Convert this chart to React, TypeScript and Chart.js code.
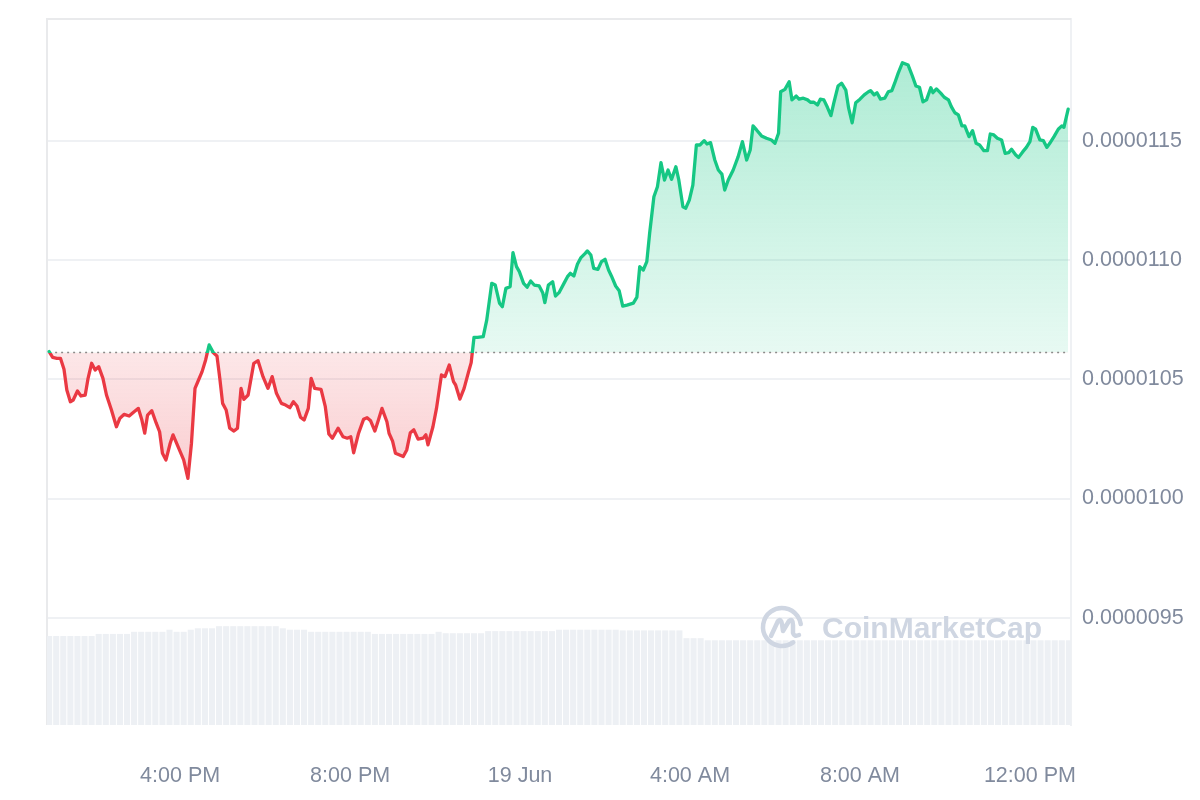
import React, { useEffect, useRef } from 'react';
import { Chart, registerables } from 'chart.js';

Chart.register(...registerables);

// Time in minutes after 12:00 PM, 18 Jun
const TIMES = [
  55, 60, 66, 71, 76, 80, 85, 89, 95, 100,
  106, 110, 115, 120, 125, 131, 136, 143, 150, 155,
  161, 168, 175, 181, 186, 190, 194, 200, 206, 211,
  215, 220, 226, 230, 236, 242, 245, 251, 256, 261,
  266, 271, 276, 281, 287, 292, 296, 300, 305, 310,
  316, 321, 326, 330, 336, 344, 350, 357, 364, 370,
  376, 383, 389, 395, 400, 405, 410, 415, 421, 425,
  430, 439, 445, 450, 455, 463, 470, 476, 481, 485,
  492, 499, 504, 509, 515, 520, 525, 532, 535, 540,
  544, 550, 555, 560, 565, 570, 576, 583, 587, 590,
  597, 602, 609, 614, 620, 626, 629, 635, 641, 647,
  651, 655, 660, 668, 673, 680, 685, 691, 695, 700,
  706, 710, 715, 719, 725, 730, 735, 740, 747, 752,
  755, 760, 766, 770, 775, 782, 787, 791, 796, 801,
  806, 812, 815, 820, 824, 830, 835, 840, 845, 849,
  855, 860, 865, 871, 880, 885, 889, 894, 899, 903,
  909, 914, 919, 924, 929, 934, 940, 944, 950, 954,
  959, 964, 969, 974, 980, 984, 989, 995, 1000, 1005,
  1009, 1014, 1021, 1028, 1034, 1040, 1045, 1049, 1054, 1061,
  1068, 1075, 1080, 1085, 1088, 1094, 1100, 1104, 1110, 1114,
  1120, 1126, 1130, 1135, 1140, 1144, 1149, 1154, 1159, 1163,
  1169, 1174, 1180, 1184, 1189, 1194, 1200, 1206, 1212, 1215,
  1220, 1224, 1229, 1235, 1240, 1245, 1249, 1254, 1260, 1268,
  1274, 1279, 1284, 1289, 1294, 1300, 1303, 1308, 1314, 1319,
  1325, 1329, 1334, 1339, 1344, 1348, 1354, 1359, 1364, 1369,
  1375, 1380, 1384, 1389, 1394, 1400, 1405, 1410, 1414, 1420,
  1424, 1430, 1435, 1440, 1444, 1448, 1454, 1459, 1464, 1468,
  1474, 1480, 1485, 1488, 1494,
];

const PRICES = [
  106.16e-7, 105.92e-7, 105.88e-7, 105.88e-7, 105.42e-7, 104.55e-7, 104.06e-7, 104.13e-7, 104.51e-7, 104.30e-7,
  104.34e-7, 105.04e-7, 105.67e-7, 105.39e-7, 105.53e-7, 105.04e-7, 104.34e-7, 103.71e-7, 103.01e-7, 103.37e-7,
  103.53e-7, 103.46e-7, 103.64e-7, 103.78e-7, 103.29e-7, 102.74e-7, 103.50e-7, 103.68e-7, 103.18e-7, 102.80e-7,
  101.90e-7, 101.62e-7, 102.32e-7, 102.67e-7, 102.25e-7, 101.83e-7, 101.62e-7, 100.85e-7, 102.32e-7, 104.62e-7,
  104.97e-7, 105.32e-7, 105.81e-7, 106.44e-7, 106.11e-7, 105.98e-7, 105.04e-7, 103.99e-7, 103.71e-7, 102.95e-7,
  102.83e-7, 102.95e-7, 104.62e-7, 104.16e-7, 104.34e-7, 105.67e-7, 105.78e-7, 105.11e-7, 104.62e-7, 105.11e-7,
  104.41e-7, 103.99e-7, 103.92e-7, 103.81e-7, 104.06e-7, 103.88e-7, 103.41e-7, 103.29e-7, 103.78e-7, 105.04e-7,
  104.62e-7, 104.58e-7, 103.85e-7, 102.71e-7, 102.53e-7, 102.95e-7, 102.59e-7, 102.53e-7, 102.59e-7, 101.92e-7,
  102.74e-7, 103.32e-7, 103.39e-7, 103.26e-7, 102.83e-7, 103.29e-7, 103.78e-7, 103.22e-7, 102.74e-7, 102.41e-7,
  101.90e-7, 101.83e-7, 101.76e-7, 102.04e-7, 102.76e-7, 102.88e-7, 102.49e-7, 102.53e-7, 102.67e-7, 102.25e-7,
  103.01e-7, 103.78e-7, 105.18e-7, 105.11e-7, 105.60e-7, 104.90e-7, 104.76e-7, 104.17e-7, 104.62e-7, 105.28e-7,
  105.70e-7, 106.76e-7, 106.76e-7, 106.79e-7, 107.49e-7, 109.02e-7, 108.95e-7, 108.19e-7, 108.04e-7, 108.81e-7,
  108.88e-7, 110.31e-7, 109.72e-7, 109.51e-7, 109.02e-7, 108.86e-7, 109.12e-7, 108.95e-7, 108.91e-7, 108.63e-7,
  108.21e-7, 108.95e-7, 109.09e-7, 108.49e-7, 108.63e-7, 109.02e-7, 109.30e-7, 109.44e-7, 109.33e-7, 109.82e-7,
  110.10e-7, 110.28e-7, 110.38e-7, 110.21e-7, 109.65e-7, 109.61e-7, 109.93e-7, 110.03e-7, 109.58e-7, 109.33e-7,
  108.91e-7, 108.71e-7, 108.07e-7, 108.11e-7, 108.19e-7, 108.44e-7, 109.72e-7, 109.58e-7, 109.93e-7, 111.12e-7,
  112.65e-7, 113.07e-7, 114.08e-7, 113.35e-7, 113.77e-7, 113.38e-7, 113.91e-7, 113.38e-7, 112.23e-7, 112.17e-7,
  112.51e-7, 113.14e-7, 114.82e-7, 114.82e-7, 115.00e-7, 114.86e-7, 114.92e-7, 114.19e-7, 113.77e-7, 113.60e-7,
  112.93e-7, 113.35e-7, 113.77e-7, 114.33e-7, 114.96e-7, 114.19e-7, 114.61e-7, 115.62e-7, 115.45e-7, 115.20e-7,
  115.10e-7, 115.03e-7, 114.89e-7, 115.31e-7, 117.05e-7, 117.15e-7, 117.47e-7, 116.71e-7, 116.87e-7, 116.74e-7,
  116.78e-7, 116.71e-7, 116.61e-7, 116.61e-7, 116.50e-7, 116.74e-7, 116.71e-7, 116.40e-7, 116.05e-7, 116.57e-7,
  117.29e-7, 117.41e-7, 117.12e-7, 116.36e-7, 115.75e-7, 116.59e-7, 116.74e-7, 116.92e-7, 117.05e-7, 117.10e-7,
  116.92e-7, 117.01e-7, 116.74e-7, 116.78e-7, 117.05e-7, 117.10e-7, 117.41e-7, 117.83e-7, 118.27e-7, 118.17e-7,
  117.71e-7, 117.29e-7, 117.24e-7, 116.63e-7, 116.71e-7, 117.22e-7, 117.01e-7, 117.17e-7, 116.99e-7, 116.82e-7,
  116.71e-7, 116.43e-7, 116.17e-7, 116.08e-7, 115.62e-7, 115.62e-7, 115.17e-7, 115.42e-7, 114.89e-7, 114.82e-7,
  114.58e-7, 114.58e-7, 115.28e-7, 115.24e-7, 115.10e-7, 115.03e-7, 114.47e-7, 114.50e-7, 114.64e-7, 114.40e-7,
  114.30e-7, 114.54e-7, 114.72e-7, 114.96e-7, 115.56e-7, 115.48e-7, 115.03e-7, 115.00e-7, 114.72e-7, 114.89e-7,
  115.17e-7, 115.48e-7, 115.62e-7, 115.56e-7, 116.32e-7,
];

const OPEN_PRICE = 106.12e-7;

// Volume bars every 10 minutes starting 12:55 PM (values in millions)
const VOLUME_START = 55;
const VOLUME_STEP = 10;
const VOLUMES = [
  12.6, 12.6, 12.6, 12.6, 12.6, 12.6, 12.6, 12.9, 12.9, 12.9,
  12.9, 12.9, 13.2, 13.2, 13.2, 13.2, 13.2, 13.5, 13.2, 13.2,
  13.5, 13.7, 13.7, 13.7, 14.0, 14.0, 14.0, 14.0, 14.0, 14.0,
  14.0, 14.0, 14.0, 13.7, 13.5, 13.5, 13.5, 13.2, 13.2, 13.2,
  13.2, 13.2, 13.2, 13.2, 13.2, 13.2, 12.9, 12.9, 12.9, 12.9,
  12.9, 12.9, 12.9, 12.9, 12.9, 13.2, 13.0, 13.0, 13.0, 13.0,
  13.0, 13.0, 13.3, 13.3, 13.3, 13.3, 13.3, 13.3, 13.3, 13.3,
  13.3, 13.3, 13.5, 13.5, 13.5, 13.5, 13.5, 13.5, 13.5, 13.5,
  13.5, 13.4, 13.4, 13.4, 13.4, 13.4, 13.4, 13.4, 13.4, 13.4,
  12.3, 12.3, 12.3, 12.0, 12.0, 12.0, 12.0, 12.0, 12.0, 12.0,
  12.0, 12.0, 12.0, 12.0, 12.0, 12.0, 12.0, 12.0, 12.0, 12.0,
  12.0, 12.0, 12.0, 12.0, 12.0, 12.0, 12.0, 12.0, 12.0, 12.0,
  12.0, 12.0, 12.0, 12.0, 12.0, 12.0, 12.0, 12.0, 12.0, 12.0,
  12.0, 12.0, 12.0, 12.0, 12.0, 12.0, 12.0, 12.0, 12.0, 12.0,
  12.0, 12.0, 12.0, 12.0, 12.0,
];

const X_MIN = 52;
const X_MAX = 1498;
const X_TICKS = [240, 480, 720, 960, 1200, 1440];
const X_LABELS = ['4:00 PM', '8:00 PM', '19 Jun', '4:00 AM', '8:00 AM', '12:00 PM'];
const Y_MIN = 90.51e-7;
const Y_MAX = 120.1e-7;
const Y_TICKS = [95e-7, 100e-7, 105e-7, 110e-7, 115e-7];

const GREEN = '#16c784';
const RED = '#ea3943';
const LABEL = '#808a9d';
const GRID = '#eff1f4';
const FONT = "'Liberation Sans', Arial, Helvetica, sans-serif";

const framePlugin = {
  id: 'frame',
  beforeDatasetsDraw(chart: any) {
    const { ctx, chartArea: a } = chart;
    ctx.save();
    ctx.strokeStyle = '#e9eaec';
    ctx.lineWidth = 2;
    ctx.beginPath();
    ctx.moveTo(a.left, a.bottom);
    ctx.lineTo(a.left, a.top);
    ctx.lineTo(a.right, a.top);
    ctx.stroke();
    ctx.restore();
  },
};

const watermarkPlugin = {
  id: 'watermark',
  afterDatasetsDraw(chart: any) {
    const { ctx, chartArea: a } = chart;
    const cx = a.right - 289;
    const cy = a.bottom - 98;
    ctx.save();
    ctx.strokeStyle = '#cfd6e2';
    ctx.fillStyle = '#cfd6e2';
    ctx.lineWidth = 4.5;
    ctx.lineCap = 'round';
    ctx.lineJoin = 'round';
    ctx.beginPath();
    ctx.arc(cx, cy, 19, 0.3 * Math.PI, 1.95 * Math.PI);
    ctx.stroke();
    ctx.beginPath();
    ctx.moveTo(cx - 11, cy + 9);
    ctx.lineTo(cx - 4, cy - 6);
    ctx.quadraticCurveTo(cx - 1, cy - 9, cx, cy - 3);
    ctx.lineTo(cx + 1, cy + 4);
    ctx.lineTo(cx + 7, cy - 6);
    ctx.quadraticCurveTo(cx + 11, cy - 9, cx + 11, cy - 2);
    ctx.lineTo(cx + 11, cy + 6);
    ctx.quadraticCurveTo(cx + 12, cy + 10, cx + 17, cy + 8);
    ctx.stroke();
    ctx.font = `bold 30px ${FONT}`;
    ctx.textBaseline = 'alphabetic';
    ctx.textAlign = 'left';
    ctx.fillText('CoinMarketCap', cx + 40, cy + 11);
    ctx.restore();
  },
};

export default function App() {
  const canvasRef = useRef<HTMLCanvasElement | null>(null);

  useEffect(() => {
    const canvas = canvasRef.current;
    if (!canvas) return;
    const chart = new Chart(canvas, {
      type: 'line',
      data: {
        datasets: [
          {
            type: 'line',
            label: 'Price',
            data: TIMES.map((t, i) => ({ x: t, y: PRICES[i] })),
            borderColor: GREEN,
            borderWidth: 3.3,
            pointRadius: 0,
            tension: 0,
            borderJoinStyle: 'round',
            borderCapStyle: 'round',
            fill: { target: { value: OPEN_PRICE }, above: 'rgba(22,199,132,0.2)', below: 'rgba(234,57,67,0.2)' },
            yAxisID: 'y',
            order: 1,
          } as any,
          {
            type: 'line',
            label: 'Open',
            data: [
              { x: TIMES[0], y: OPEN_PRICE },
              { x: TIMES[TIMES.length - 1], y: OPEN_PRICE },
            ],
            borderColor: '#8c8c8c',
            borderWidth: 1.6,
            borderDash: [2, 4],
            pointRadius: 0,
            fill: false,
            yAxisID: 'y',
            order: 2,
          } as any,
          {
            type: 'bar',
            label: 'Volume',
            data: VOLUMES.map((v, i) => ({ x: VOLUME_START + i * VOLUME_STEP, y: v })),
            backgroundColor: '#edf0f4',
            barPercentage: 1,
            categoryPercentage: 0.86,
            yAxisID: 'yv',
            order: 3,
          } as any,
        ],
      },
      options: {
        responsive: false,
        animation: false,
        devicePixelRatio: 1,
        layout: { padding: { left: 47, top: 19, right: 0, bottom: 0 } },
        plugins: { legend: { display: false }, tooltip: { enabled: false } },
        scales: {
          x: {
            type: 'linear',
            min: X_MIN,
            max: X_MAX,
            offset: false,
            grid: { display: false, offset: false },
            border: { display: false },
            afterBuildTicks: (s: any) => {
              s.ticks = X_TICKS.map((v) => ({ value: v }));
            },
            afterFit: (s: any) => {
              s.height = 75;
              s.paddingLeft = 0;
              s.paddingRight = 0;
            },
            ticks: {
              color: LABEL,
              font: { family: FONT, size: 21.5 },
              padding: 30,
              maxRotation: 0,
              autoSkip: false,
              callback: (v: any) => X_LABELS[X_TICKS.indexOf(Number(v))] ?? '',
            },
          },
          y: {
            type: 'linear',
            position: 'right',
            min: Y_MIN,
            max: Y_MAX,
            afterBuildTicks: (s: any) => {
              s.ticks = Y_TICKS.map((v) => ({ value: v }));
            },
            afterFit: (s: any) => {
              s.width = 129;
              s.paddingTop = 0;
              s.paddingBottom = 0;
            },
            grid: { color: GRID, lineWidth: 2, drawTicks: false },
            border: { display: true, color: GRID, width: 2 },
            ticks: {
              color: LABEL,
              font: { family: FONT, size: 21.5 },
              padding: 11,
              callback: (v: any) => Number(v).toFixed(7),
            },
          },
          yv: { type: 'linear', display: false, min: 0, max: 100 },
        },
      } as any,
      plugins: [framePlugin, watermarkPlugin],
    });

    const area = chart.chartArea;
    const yb = chart.scales.y.getPixelForValue(OPEN_PRICE);
    const ctx = chart.ctx;
    const stop = (yb - area.top) / (area.bottom - area.top);
    const lineGrad = ctx.createLinearGradient(0, area.top, 0, area.bottom);
    lineGrad.addColorStop(0, GREEN);
    lineGrad.addColorStop(stop, GREEN);
    lineGrad.addColorStop(stop, RED);
    lineGrad.addColorStop(1, RED);
    const upGrad = ctx.createLinearGradient(0, area.top, 0, yb);
    upGrad.addColorStop(0, 'rgba(22,199,132,0.38)');
    upGrad.addColorStop(1, 'rgba(22,199,132,0.1)');
    const downGrad = ctx.createLinearGradient(0, yb, 0, area.bottom);
    downGrad.addColorStop(0, 'rgba(234,57,67,0.12)');
    downGrad.addColorStop(1, 'rgba(234,57,67,0.5)');
    const ds: any = chart.data.datasets[0];
    ds.borderColor = lineGrad;
    ds.fill = { target: { value: OPEN_PRICE }, above: upGrad, below: downGrad };
    chart.update('none');

    return () => chart.destroy();
  }, []);

  return (
    <div style={{ position: 'absolute', left: 0, top: 0, width: 1200, height: 800, background: '#fff' }}>
      <canvas ref={canvasRef} width={1200} height={800} style={{ display: 'block', width: 1200, height: 800 }} />
    </div>
  );
}
